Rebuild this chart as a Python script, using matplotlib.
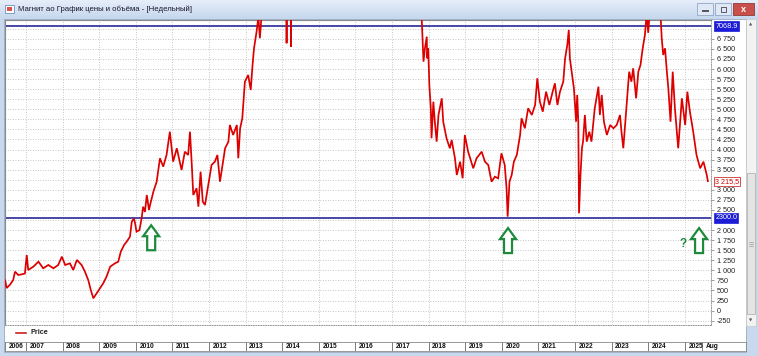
import matplotlib
matplotlib.use("Agg")
import matplotlib.pyplot as plt
from matplotlib.patches import Rectangle, Polygon
from matplotlib.lines import Line2D
import numpy as np

# ---------------- data (decimal years, price) ----------------
dates = [
    2006.43, 2006.47, 2006.56, 2006.65, 2006.70, 2006.79, 2006.88, 2006.97, 2007.02, 2007.06,
    2007.20, 2007.34, 2007.47, 2007.61, 2007.75, 2007.88, 2007.98, 2008.07, 2008.20, 2008.29,
    2008.39, 2008.52, 2008.61, 2008.70, 2008.77, 2008.84, 2008.93, 2009.02, 2009.11, 2009.20,
    2009.30, 2009.43, 2009.52, 2009.59, 2009.68, 2009.75, 2009.84, 2009.89, 2009.95, 2009.98,
    2010.02, 2010.10, 2010.16, 2010.20, 2010.25, 2010.30, 2010.36, 2010.39, 2010.48, 2010.57,
    2010.66, 2010.75, 2010.84, 2010.93, 2011.02, 2011.12, 2011.25, 2011.34, 2011.43, 2011.48,
    2011.53, 2011.57, 2011.66, 2011.71, 2011.77, 2011.83, 2011.89, 2011.98, 2012.07, 2012.16,
    2012.23, 2012.30, 2012.37, 2012.44, 2012.53, 2012.57, 2012.66, 2012.76, 2012.80, 2012.85,
    2012.91, 2012.98, 2013.07, 2013.14, 2013.19, 2013.23, 2013.30, 2013.35, 2013.39, 2013.45,
    2013.60, 2013.80, 2014.00, 2014.10, 2014.12, 2014.14, 2014.22, 2014.24, 2014.26, 2014.50,
    2015.00, 2015.50, 2016.00, 2016.50, 2017.00, 2017.40, 2017.70, 2017.81, 2017.84, 2017.86,
    2017.90, 2017.95, 2017.96, 2017.99, 2018.02, 2018.06, 2018.08, 2018.13, 2018.17, 2018.22,
    2018.27, 2018.36, 2018.40, 2018.49, 2018.58, 2018.63, 2018.72, 2018.77, 2018.86, 2018.93,
    2018.99, 2019.08, 2019.22, 2019.31, 2019.45, 2019.54, 2019.63, 2019.72, 2019.81, 2019.90,
    2019.99, 2020.08, 2020.13, 2020.16, 2020.21, 2020.27, 2020.33, 2020.41, 2020.50, 2020.54,
    2020.63, 2020.72, 2020.82, 2020.91, 2020.97, 2021.04, 2021.12, 2021.21, 2021.30, 2021.39,
    2021.45, 2021.52, 2021.59, 2021.68, 2021.73, 2021.79, 2021.83, 2021.86, 2021.91, 2021.97,
    2022.03, 2022.06, 2022.09, 2022.11, 2022.15, 2022.19, 2022.22, 2022.27, 2022.32, 2022.39,
    2022.45, 2022.54, 2022.64, 2022.68, 2022.73, 2022.79, 2022.87, 2022.96, 2023.05, 2023.14,
    2023.23, 2023.27, 2023.32, 2023.41, 2023.48, 2023.54, 2023.59, 2023.67, 2023.73, 2023.79,
    2023.85, 2023.91, 2023.96, 2024.00, 2024.05, 2024.15, 2024.27, 2024.34, 2024.37, 2024.41,
    2024.46, 2024.51, 2024.55, 2024.61, 2024.67, 2024.73, 2024.82, 2024.92, 2025.01, 2025.07,
    2025.14, 2025.23, 2025.32, 2025.42, 2025.51, 2025.60, 2025.63,
]
price = [
    750, 560, 640, 760, 966, 884, 900, 920, 1381, 1008,
    1090, 1215, 1050, 1133, 1050, 1133, 1340, 1133, 1174, 1008,
    1257, 1133, 966, 760, 512, 305, 430, 554, 678, 842,
    1090, 1174, 1215, 1463, 1630, 1711, 1836, 2208, 2290, 2168,
    1960, 2000, 2300, 2581, 2450, 2871, 2500, 2623, 2954, 3202,
    3783, 3575, 3865, 4444, 3699, 4032, 3492, 3947, 3865, 4444,
    3617, 2871, 3038, 2581, 3450, 2705, 2623, 3120, 3617, 3699,
    3865, 3202, 3617, 4032, 4196, 4610, 4362, 4610, 3783, 4527,
    4777, 5686, 5852, 5480, 6101, 6516, 6928, 7300, 6764, 7500,
    8200, 9000, 9500, 9800, 6640, 9500, 9300, 6555, 9600, 11000,
    12500, 11500, 10000, 9500, 10500, 9000, 7600, 7300, 6598, 6183,
    6516, 6804, 6267, 6516, 5604, 5025, 4280, 5189, 4692, 4196,
    4859, 5273, 4692, 4280, 4032, 4240, 3783, 3368, 3699, 3286,
    4362, 3947, 3534, 3783, 3947, 3699, 3617, 3202, 3326, 3286,
    3907, 3617, 3038, 2333, 3202, 3368, 3699, 3865, 4362, 4777,
    4528, 5025, 4859, 5107, 5770, 5189, 4940, 5438, 5107, 5438,
    5646, 5107, 5438, 5686, 6267, 6598, 6970, 6267, 5935, 5522,
    4692, 5356, 4692, 2417, 3368, 4032, 4200, 4859, 4196, 4444,
    4196, 5025, 5562, 4859, 5356, 4692, 4362, 4610, 4528, 4610,
    4859, 4444, 4032, 5107, 5935, 5686, 6018, 5273, 5935, 6101,
    6516, 6846, 7400, 6900, 7500, 7900, 7700, 7300, 6764, 6350,
    6516, 5935, 5522, 4692, 5935, 5025, 4032, 5273, 4610, 5438,
    4940, 4444, 3865, 3534, 3699, 3368, 3215.5,
]
level_high = 7068.9
level_low = 2300.0
last_price = 3215.5
year_labels = ["2006", "2007", "2008", "2009", "2010", "2011", "2012", "2013", "2014", "2015",
               "2016", "2017", "2018", "2019", "2020", "2021", "2022", "2023", "2024", "2025", "Aug"]
year_starts = [2006.43] + list(range(2007, 2026)) + [2025.47]
arrow_years = [2010.42, 2020.17, 2025.39]
arrow_tips = [2120, 2050, 2050]

# ---------------- figure ----------------
W, H = 758, 356
fig = plt.figure(figsize=(W / 100, H / 100), dpi=100)
fig.patch.set_facecolor("#c8d8ed")
NARROW = ["Liberation Sans Narrow", "Liberation Sans", "DejaVu Sans"]
SANS = ["Liberation Sans", "DejaVu Sans"]


def fx(x):
    return x / W


def fy(y):
    return 1 - y / H


def rect(x0, y0, x1, y1, z=-5, **kw):
    r = Rectangle((fx(x0), fy(y1)), (x1 - x0) / W, (y1 - y0) / H,
                  transform=fig.transFigure, zorder=z, **kw)
    fig.add_artist(r)
    return r


# title bar gradient
tax = fig.add_axes([0, fy(19), 1, 19 / H])
grad = np.linspace(0, 1, 50).reshape(-1, 1)
tax.imshow(grad, aspect="auto", cmap=matplotlib.colors.LinearSegmentedColormap.from_list(
    "t", ["#e6eef9", "#c6d7ee"]), extent=[0, 1, 0, 1])
tax.set_axis_off()
fig.text(fx(18), fy(9.5), "Магнит ао График цены и объёма - [Недельный]",
         fontsize=5.6, family=SANS, color="#1a1a2a", va="center", ha="left", zorder=8)
# icon
rect(5, 5, 14, 13, z=5, facecolor="#ffffff", edgecolor="#6f8fb8", lw=0.6)
rect(7, 7, 12, 11, z=6, facecolor="#e05050", edgecolor="none")
# window buttons
rect(697, 3, 713, 15, z=5, facecolor="#dfe8f4", edgecolor="#8fa7c8", lw=0.6)
rect(715, 3, 731, 15, z=5, facecolor="#dfe8f4", edgecolor="#8fa7c8", lw=0.6)
rect(733, 3, 754, 15, z=5, facecolor="#c9504a", edgecolor="#8f3a36", lw=0.6)
rect(701.5, 10, 708.5, 11.5, z=7, facecolor="#556", edgecolor="none")
rect(720.5, 6.5, 725.5, 11.5, z=7, facecolor="none", edgecolor="#445", lw=0.6)
fig.text(fx(743.5), fy(9.3), "x", fontsize=6.5, color="white", ha="center", va="center",
         weight="bold", zorder=8, family=SANS)

# white panel (behind axes)
rect(4, 19, 746, 352, z=-10, facecolor="white", edgecolor="#9aaac0", lw=0.6)
# scrollbar
rect(746, 19, 756, 326, z=-9, facecolor="#f2f2f2", edgecolor="#c8c8c8", lw=0.5)
rect(747, 173, 755, 314, z=-8, facecolor="#e4e4e4", edgecolor="#a8a8a8", lw=0.5)
fig.text(fx(751), fy(24), "▲", fontsize=3, color="#555", ha="center", va="center")
fig.text(fx(751), fy(320), "▼", fontsize=3, color="#555", ha="center", va="center")
for yy in (242, 244, 246):
    fig.add_artist(Line2D([fx(749), fx(753)], [fy(yy), fy(yy)], transform=fig.transFigure,
                          color="#888", lw=0.4))

# ---------------- main axes ----------------
ax = fig.add_axes([fx(5), fy(325), (711 - 5) / W, (325 - 20) / H])
ax.patch.set_alpha(0)
ax.set_xlim(2006.426, 2025.716)
ax.set_ylim(-358, 7218)

for v in np.arange(-250, 7001, 250):
    ax.axhline(v, color="#b4b4b4", lw=0.6, ls=(0, (1, 2)), zorder=1)
for yv in range(2007, 2026):
    ax.axvline(yv, color="#b4b4b4", lw=0.6, ls=(0, (1, 2)), zorder=1)

ax.axhline(level_high, color="#4646a8", lw=1.4, zorder=2)
ax.axhline(level_low, color="#4646a8", lw=1.4, zorder=2)
ax.plot(dates, price, color="#dd0000", lw=1.25, zorder=3, solid_joinstyle="miter")

for s in ("left", "top"):
    ax.spines[s].set_color("#8a8a8a")
    ax.spines[s].set_linewidth(0.8)
ax.spines["right"].set_color("#9a9a9a")
ax.spines["right"].set_linestyle((0, (1, 1.5)))
ax.spines["right"].set_linewidth(0.7)
ax.spines["bottom"].set_color("#9a9a9a")
ax.spines["bottom"].set_linestyle((0, (1, 1.5)))
ax.spines["bottom"].set_linewidth(0.7)

ax.set_xticks([])
ticks = [v for v in range(-250, 7001, 250) if v not in (7000, 3250, 2250)]
ax.yaxis.tick_right()
ax.set_yticks(ticks)


def fmt(v):
    s = f"{abs(v):,}".replace(",", " ")
    return ("-" if v < 0 else "") + s


ax.set_yticklabels([fmt(v) for v in ticks], fontsize=5.2, family=NARROW, color="#222")
ax.tick_params(axis="y", length=2.5, width=0.5, color="#777", pad=1.5)

# value labels on the right axis
ax.text(1.006, level_high, "7068.9", transform=ax.get_yaxis_transform(), fontsize=5.2,
        family=NARROW, color="white", va="center", ha="left",
        bbox=dict(boxstyle="square,pad=0.15", fc="#1c1cd6", ec="#1c1cd6", lw=0.5))
ax.text(1.006, level_low, "2300.0", transform=ax.get_yaxis_transform(), fontsize=5.2,
        family=NARROW, color="white", va="center", ha="left",
        bbox=dict(boxstyle="square,pad=0.15", fc="#1c1cd6", ec="#1c1cd6", lw=0.5))
ax.text(1.006, last_price, "3 215,5", transform=ax.get_yaxis_transform(), fontsize=5.2,
        family=NARROW, color="#cc0000", va="center", ha="left",
        bbox=dict(boxstyle="square,pad=0.15", fc="white", ec="#cc3333", lw=0.6))

# green hollow arrows (annotations)
fig.canvas.draw()
for yr, tip in zip(arrow_years, arrow_tips):
    px, py = ax.transData.transform((yr, tip))
    shape = [(0, 0), (8, -11), (4, -11), (4, -25), (-4, -25), (-4, -11), (-8, -11)]
    pts = [(px + dx, py + dy) for dx, dy in shape]
    fig.add_artist(Polygon(pts, closed=True, transform=None, facecolor="white",
                           edgecolor="#1e8a3c", lw=1.6, zorder=5))
fig.text(fx(683), fy(244), "?", fontsize=8.5, color="#1e8a3c", weight="bold",
         ha="center", va="center", family=SANS)

# legend
fig.add_artist(Line2D([fx(16), fx(26)], [fy(333), fy(333)], transform=fig.transFigure,
                      color="#cc2020", lw=1.2))
fig.text(fx(30), fy(333), "Price", fontsize=5.2, family=SANS, color="#222",
         va="center", ha="left", weight="bold")

# ---------------- year bar ----------------
yax = fig.add_axes([fx(5), fy(351), (746 - 5) / W, 9 / H])
yax.set_xlim(2006.426, 2006.426 + (746 - 5) / 36.6)
yax.set_ylim(0, 1)
yax.set_facecolor("white")
for s in yax.spines.values():
    s.set_color("#888")
    s.set_linewidth(0.6)
yax.set_xticks([])
yax.set_yticks([])
for lab, xs in zip(year_labels, year_starts):
    yax.axvline(xs, color="#666", lw=0.6)
    yax.text(xs + 0.1, 0.5, lab, fontsize=4.8, family=NARROW, color="#111",
             va="center", ha="left", weight="bold")

fig.savefig("out.png", dpi=100, facecolor=fig.get_facecolor())
